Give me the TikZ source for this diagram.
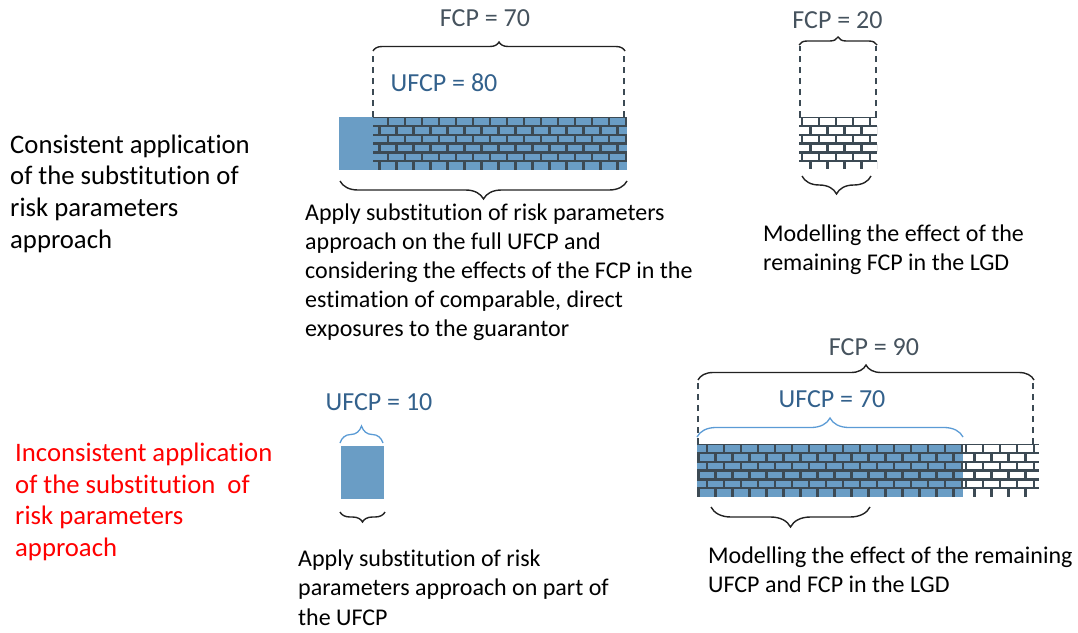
\documentclass[tikz,border=0pt]{standalone}
\usepackage{fontspec}
\setmainfont[Ligatures=NoCommon]{Carlito}
\usetikzlibrary{decorations.pathreplacing}
\definecolor{brickblue}{HTML}{6A9DC5}
\definecolor{mortar}{HTML}{3C4A54}
\definecolor{fcpgray}{HTML}{46535E}
\definecolor{ufcpblue}{HTML}{33618C}
\definecolor{bracelblue}{HTML}{5B9BD5}
\definecolor{bracedark}{HTML}{222222}
\tikzset{
  mortarline/.style={draw=mortar, line width=2.2pt},
  dashline/.style={draw=mortar, line width=1.5pt, dash pattern=on 6pt off 5pt},
  bracedown/.style={draw=bracedark, line width=1.4pt, decorate, decoration={brace, mirror, amplitude=#1}},
  braceup/.style={draw=bracedark, line width=1.4pt, decorate, decoration={brace, amplitude=#1}},
  bluebrace/.style={draw=bracelblue, line width=1.3pt, decorate, decoration={brace, amplitude=#1}},
  fcplabel/.style={font=\fontsize{26}{31}\selectfont, text=fcpgray, inner sep=0pt, anchor=center},
  ufcplabel/.style={font=\fontsize{26}{31}\selectfont, text=ufcpblue, inner sep=0pt, anchor=center},
  sidetext/.style={font=\fontsize{26.7}{31.7}\selectfont, inner sep=0pt, anchor=base west, align=left},
  desctext/.style={font=\fontsize{24}{29.2}\selectfont, inner sep=0pt, anchor=base west, align=left},
}
\newcommand\brickwall[6]{%
  \begin{scope}
    \clip (#1,#2) rectangle (#3,#4);
    \fill[#5] (#1,#2) rectangle (#3,#4);
    \foreach \r in {0,...,5}{
      \pgfmathsetmacro\yt{#2+\r*8.85}
      \pgfmathsetmacro\yb{\yt+8.85}
      \draw[mortarline] (#1,\yt) -- (#3,\yt);
      \pgfmathsetmacro\off{mod(\r,2)*8.5+#6}
      \foreach \k in {-1,...,17}{
        \pgfmathsetmacro\xx{#1+\off+\k*17}
        \draw[mortarline] (\xx,\yt) -- (\xx,\yb);
      }
    }
  \end{scope}}
\begin{document}
\begin{tikzpicture}[x=1pt,y=-1pt]
\useasboundingbox (0,0) rectangle (1078,632);

% ---------- side texts (base anchor = baseline of last line)
\node[sidetext] (cons) at (10,248.1) {Consistent application\\of the substitution of\\risk parameters\\approach};
\node[sidetext, text=red] (incons) at (15,556.6) {Inconsistent application\\of the substitution\ \ of\\risk parameters\\approach};

% ---------- top left
\fill[brickblue] (339,117) rectangle (373,170);
\brickwall{373}{117}{627}{170}{brickblue}{15}
\draw[dashline] (373,117) -- (373,52);
\draw[dashline] (624,117) -- (624,52);
\coordinate (tlA) at (373,51);
\coordinate (tlB) at (625,51);
\draw[braceup=9pt] (tlA) -- (tlB);
\node[fcplabel] (fcp70) at (485,18.5) {FCP = 70};
\node[ufcplabel] (ufcp80) at (444,82.5) {UFCP = 80};
\coordinate (tlC) at (340,181);
\coordinate (tlD) at (627,181);
\draw[bracedown=18pt] (tlC) -- (tlD);
\node[desctext] (desc1) at (305,336.8) {Apply substitution of risk parameters\\approach on the full UFCP and\\considering the effects of the FCP in the\\estimation of comparable, direct\\exposures to the guarantor};

% ---------- top right
\brickwall{799}{117}{877}{168}{white}{3}
\draw[dashline] (800,117) -- (800,46);
\draw[dashline] (876,117) -- (876,46);
\coordinate (trA) at (799,45);
\coordinate (trB) at (877,45);
\draw[braceup=8pt] (trA) -- (trB);
\node[fcplabel] (fcp20) at (837.5,20.5) {FCP = 20};
\coordinate (trC) at (802,176);
\coordinate (trD) at (871,176);
\draw[bracedown=18pt] (trC) -- (trD);
\node[desctext] (desc2) at (763,270.9) {Modelling the effect of the\\remaining FCP in the LGD};

% ---------- bottom left
\fill[brickblue] (341,446) rectangle (384,499);
\coordinate (blA) at (340,443);
\coordinate (blB) at (383,443);
\draw[bluebrace=17pt] (blA) -- (blB);
\node[ufcplabel] (ufcp10) at (379,402.5) {UFCP = 10};
\coordinate (blC) at (340,512);
\coordinate (blD) at (385,512);
\draw[bracedown=10pt] (blC) -- (blD);
\node[desctext] (desc3) at (298,625.1) {Apply substitution of risk\\parameters approach on part of\\the UFCP};

% ---------- bottom right
\brickwall{697}{444}{963}{497}{brickblue}{10}
\brickwall{963}{444}{1039}{497}{white}{3}
\draw[dashline] (698,444) -- (698,381);
\draw[dashline] (1033,444) -- (1033,381);
\coordinate (brA) at (698,380);
\coordinate (brB) at (1034,380);
\draw[braceup=15pt] (brA) -- (brB);
\node[fcplabel] (fcp90) at (874,346.7) {FCP = 90};
\coordinate (brC) at (697,437);
\coordinate (brD) at (963,437);
\draw[bluebrace=19pt] (brC) -- (brD);
\node[ufcplabel] (ufcp70) at (832,399) {UFCP = 70};
\coordinate (brE) at (711,507);
\coordinate (brF) at (870,507);
\draw[bracedown=20pt] (brE) -- (brF);
\node[desctext] (desc4) at (708,592.2) {Modelling the effect of the remaining\\UFCP and FCP in the LGD};
\end{tikzpicture}
\end{document}
